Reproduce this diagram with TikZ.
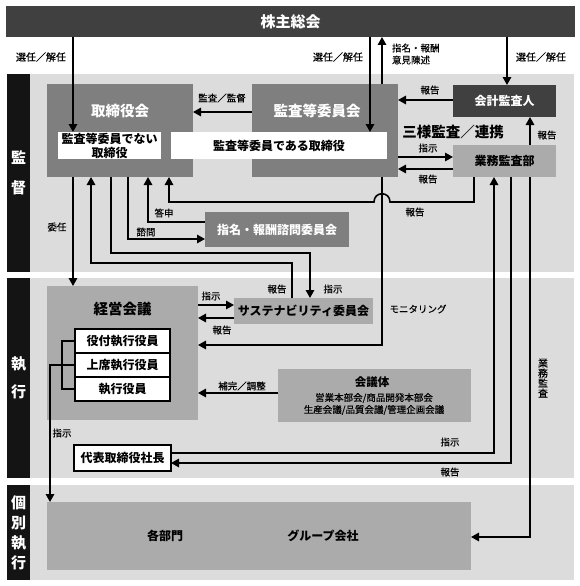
\documentclass[tikz,border=0pt]{standalone}
\usepackage{fontspec}
\setmainfont{Noto Sans CJK JP}
\newfontfamily\labfont[FakeBold=0.35]{Noto Sans CJK JP}
\usetikzlibrary{arrows.meta}
\definecolor{dk}{HTML}{404040}
\definecolor{blk}{HTML}{141414}
\definecolor{band}{HTML}{DCDCDC}
\definecolor{mid}{HTML}{7F7F7F}
\definecolor{lt}{HTML}{ABABAB}
\tikzset{
  bx/.style={inner sep=0pt, outer sep=0pt, align=center},
  sidebar/.style={bx, fill=blk, text=white, minimum width=23, font=\fontsize{15}{18}\selectfont\bfseries},
  darkbox/.style={bx, fill=dk, text=white, font=\fontsize{12}{14}\selectfont\bfseries},
  midbox/.style={bx, fill=mid, text=white, font=\fontsize{12}{14}\selectfont\bfseries},
  ltbox/.style={bx, fill=lt, text=black, font=\fontsize{12}{14}\selectfont\bfseries},
  whbox/.style={bx, fill=white, text=black, font=\fontsize{12}{14}\selectfont\bfseries},
  rolebox/.style={bx, fill=white, draw=black, line width=1.2pt, minimum width=95, minimum height=24, font=\fontsize{12}{14}\selectfont\bfseries},
  ttl/.style={bx, font=\fontsize{14.5}{17}\selectfont\bfseries},
  lab/.style={bx, font=\labfont\fontsize{9.5}{12}\selectfont},
  ln/.style={line width=1.6pt, line join=miter},
  arr/.style={ln, -{Triangle[length=8pt,width=8.5pt]}},
}
\begin{document}
\begin{tikzpicture}[x=1pt,y=-1pt]
\useasboundingbox[fill=white] (0,0) rectangle (580,586);
% bands
\fill[band] (30,74) rectangle (574,272);
\fill[band] (30,278) rectangle (574,478);
\fill[band] (30,485) rectangle (574,580);
% side bars
\node[sidebar, minimum height=198] (sb1) at (18.5,173) {監\\[12pt]督};
\node[sidebar, minimum height=200] (sb2) at (18.5,378) {執\\[10pt]行};
\node[sidebar, minimum height=95, font=\fontsize{15}{20}\selectfont\bfseries] (sb3) at (18.5,532.5) {個\\別\\執\\行};
% top bar
\node[bx, fill=dk, text=white, minimum width=569, minimum height=31, font=\fontsize{15}{18}\selectfont\bfseries] (kabu) at (290.5,21.5) {株主総会};
% supervision boxes
\node[midbox, minimum width=146, minimum height=93] (tori) at (120,130.5) {};
\node[ttl, text=white] (torit) at (120,111) {取締役会};
\node[whbox, minimum width=103, minimum height=27] (wh1) at (109.5,145.5) {監査等委員でない\\取締役};
\node[midbox, minimum width=146, minimum height=93] (kansa) at (325,130.5) {};
\node[ttl, text=white] (kansat) at (317,111) {監査等委員会};
\node[whbox, minimum width=216, minimum height=27] (wh2) at (279,145.5) {監査等委員である取締役};
\node[darkbox, minimum width=103, minimum height=32] (kaikei) at (504.5,101) {会計監査人};
\node[ltbox, minimum width=103, minimum height=32] (gyomu) at (504.5,161) {業務監査部};
\node[ttl] (sanyo) at (453,132) {三様監査／連携};
\node[midbox, minimum width=144, minimum height=35] (shimei) at (277,229.5) {指名・報酬諮問委員会};
% execution boxes
\node[ltbox, minimum width=151, minimum height=134] (keiei) at (122.5,353) {};
\node[ttl] (keieit) at (122.5,309) {経営会議};
\node[rolebox] (yaku) at (122.5,341) {役付執行役員};
\node[rolebox] (joseki) at (122.5,365) {上席執行役員};
\node[rolebox] (shikko) at (122.5,389) {執行役員};
\node[ltbox, minimum width=139, minimum height=26] (sus) at (303.5,311) {サステナビリティ委員会};
\node[ltbox, minimum width=193, minimum height=53] (kaigi) at (374.5,395.5) {};
\node[bx, font=\fontsize{11.5}{13}\selectfont\bfseries] (kaigit) at (372,382) {会議体};
\node[bx, font=\labfont\fontsize{9.5}{12}\selectfont] (kaigis) at (374,404) {営業本部会/商品開発本部会\\生産会議/品質会議/管理企画会議};
\node[bx, fill=white, draw=black, line width=1.2pt, minimum width=97, minimum height=26, font=\fontsize{12}{14}\selectfont\bfseries] (daihyo) at (122.5,458) {代表取締役社長};
% individual execution
\node[ltbox, minimum width=424, minimum height=68] (big) at (259,536) {};
\node[bx, font=\fontsize{12}{14}\selectfont\bfseries] (bumon) at (165,536) {各部門};
\node[bx, font=\fontsize{12}{14}\selectfont\bfseries] (group) at (323,536) {グループ会社};
% connectors
\draw[arr] (73,0 |- kabu.south) -- (73,0 |- wh1.north);
\draw[arr] (370,0 |- kabu.south) -- (370,0 |- wh2.north);
\draw[arr] (382,0 |- kansa.north) -- (382,0 |- kabu.south);
\draw[arr] (507,0 |- kabu.south) -- (507,0 |- kaikei.north);
\draw[arr] (kansa.west |- 0,112) -- (tori.east |- 0,112);
\draw[arr] (kaikei.west |- 0,100) -- (kansa.east |- 0,100);
\draw[arr] (kansa.east |- 0,157) -- (gyomu.west |- 0,157);
\draw[arr] (gyomu.west |- 0,169) -- (kansa.east |- 0,169);
\draw[arr] (530,0 |- gyomu.north) -- (530,0 |- kaikei.south);
\draw[arr] (474,0 |- gyomu.south) -- (474,202) -- (390,202) .. controls (390,191) and (374,191) .. (374,202) -- (169,202) -- (169,0 |- tori.south);
\draw[arr] (382,0 |- kansa.south) -- (382,345) -- (keiei.east |- 0,345);
\draw[arr] (73,0 |- tori.south) -- (73,0 |- keiei.north);
\draw[arr] (128,0 |- tori.south) -- (128,239) -- (shimei.west |- 0,239);
\draw[arr] (shimei.west |- 0,222) -- (148,222) -- (148,0 |- tori.south);
\draw[arr] (111,0 |- tori.south) -- (111,253) -- (310,253) -- (310,0 |- sus.north);
\draw[arr] (292,0 |- sus.north) -- (292,263) -- (91,263) -- (91,0 |- tori.south);
\draw[arr] (keiei.east |- 0,305) -- (sus.west |- 0,305);
\draw[arr] (sus.west |- 0,318) -- (keiei.east |- 0,318);
\draw[arr] (kaigi.west |- 0,393) -- (keiei.east |- 0,393);
\draw[ln] (yaku.west) -- (62,0 |- yaku.west) -- (62,0 |- shikko.west) -- (shikko.west);
\draw[arr] (joseki.west) -- (50,0 |- joseki.west) -- (50,0 |- big.north);
\draw[arr] (daihyo.east |- 0,453) -- (494,453) -- (494,0 |- gyomu.south);
\draw[arr] (511,0 |- gyomu.south) -- (511,463) -- (daihyo.east |- 0,463);
\draw[arr] (530,0 |- gyomu.south) -- (530,537) -- (big.east |- 0,537);
% labels
\node[lab, font=\labfont\fontsize{10}{12}\selectfont] (l1) at (41,57) {選任／解任};
\node[lab, font=\labfont\fontsize{10}{12}\selectfont] (l2) at (338,57) {選任／解任};
\node[lab, font=\labfont\fontsize{10}{12}\selectfont] (l3) at (541,57) {選任／解任};
\node[lab, anchor=west, align=left] (l4) at (392,54) {指名・報酬\\意見陳述};
\node[lab] (l5) at (222,98) {監査／監督};
\node[lab] (l6) at (430,90) {報告};
\node[lab] (l7) at (428,148) {指示};
\node[lab] (l8) at (428,179) {報告};
\node[lab] (l9) at (547,135) {報告};
\node[lab] (l10) at (415,212) {報告};
\node[lab] (l11) at (57,227) {委任};
\node[lab] (l12) at (164,213) {答申};
\node[lab] (l13) at (146,232) {諮問};
\node[lab] (l14) at (277,289) {報告};
\node[lab] (l15) at (333,289) {指示};
\node[lab] (l16) at (211,296) {指示};
\node[lab] (l17) at (222,330) {報告};
\node[lab] (l18) at (418,309) {モニタリング};
\node[lab] (l19) at (242,386) {補完／調整};
\node[lab] (l20) at (62,433) {指示};
\node[lab] (l21) at (450,442) {指示};
\node[lab] (l22) at (450,472) {報告};
\node[lab, font=\labfont\fontsize{10}{10}\selectfont] (l23) at (543,378) {業\\務\\監\\査};
\end{tikzpicture}
\end{document}
